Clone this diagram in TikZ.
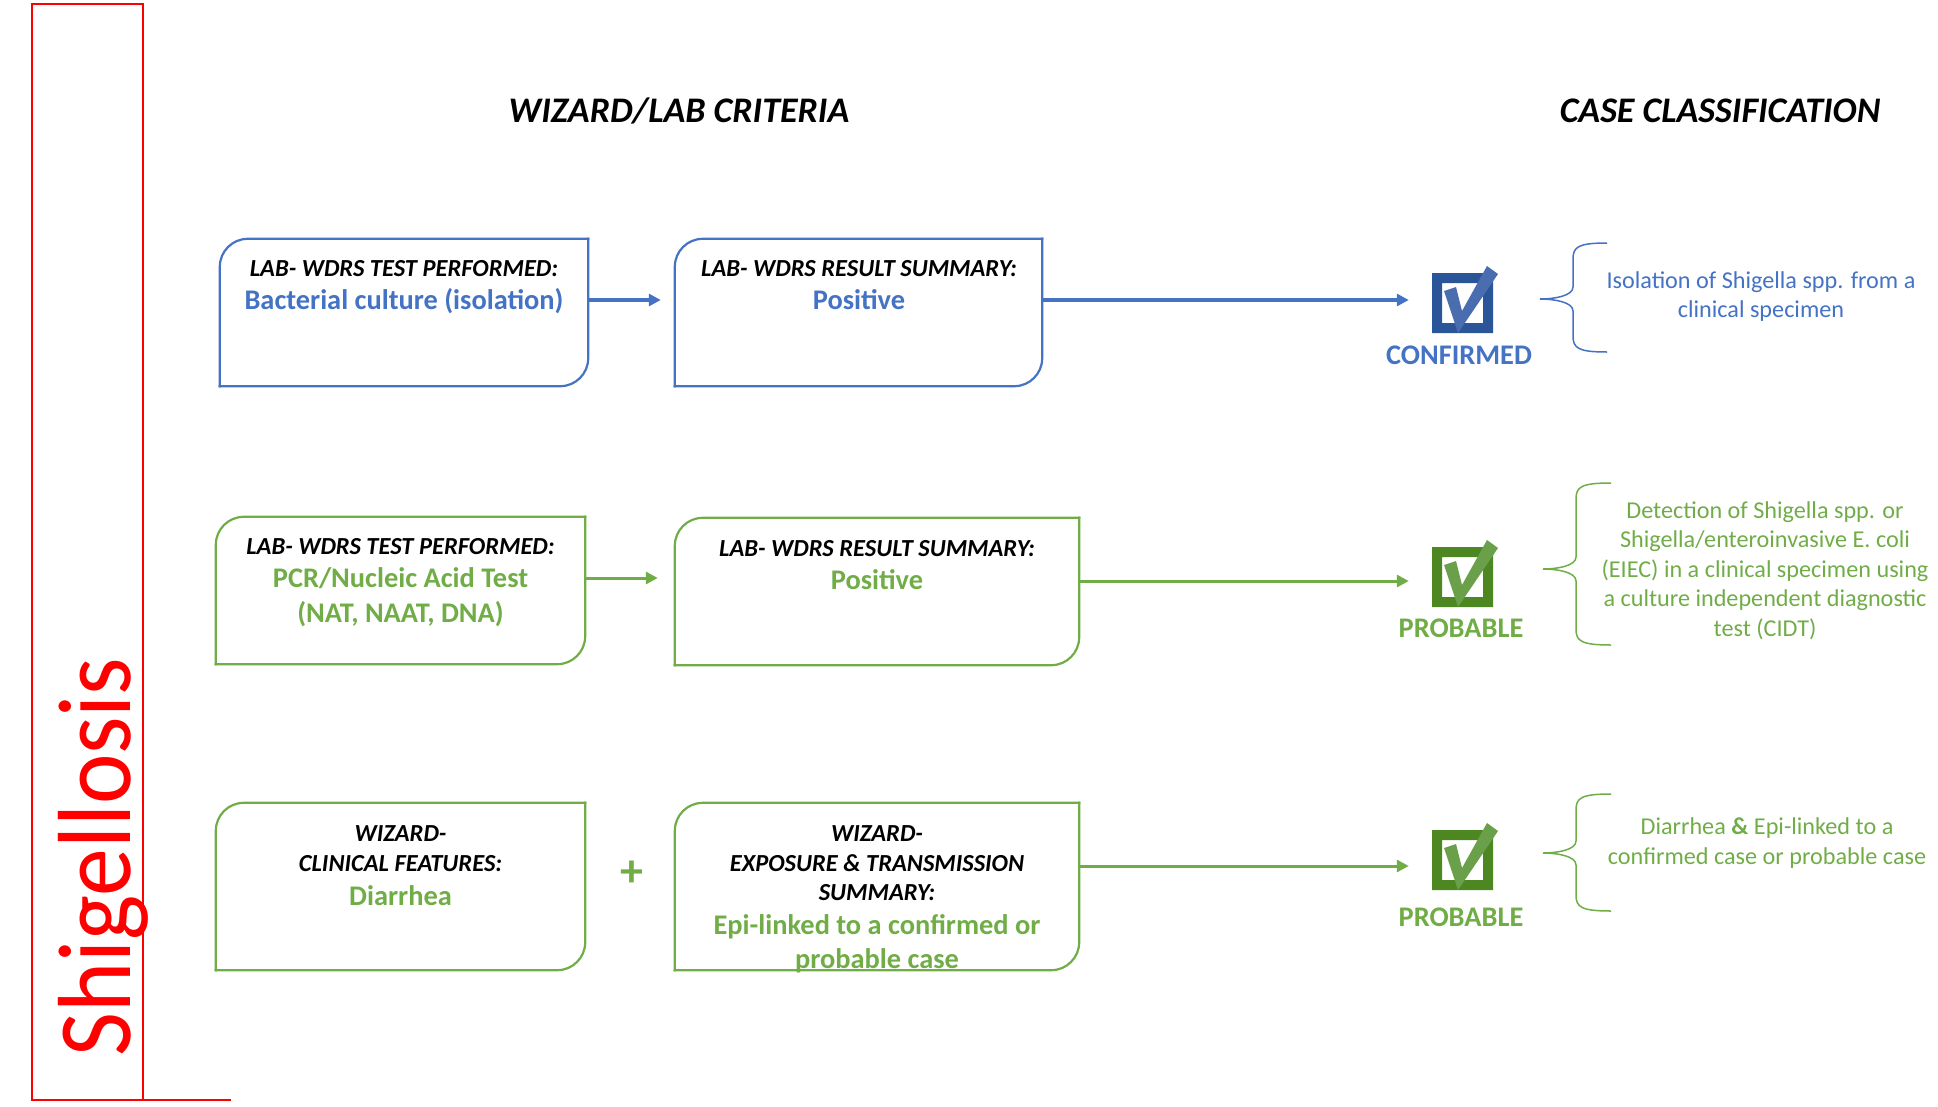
\documentclass[tikz,border=0pt]{standalone}
\usepackage{fontspec}
\setmainfont{Carlito}
\newfontfamily\shigfont[FakeStretch=0.92]{Carlito}
\usetikzlibrary{arrows.meta}
\definecolor{oblue}{HTML}{4472C4}
\definecolor{ogreen}{HTML}{70AD47}
\definecolor{dblue}{HTML}{2A5699}
\definecolor{cblue}{HTML}{4A6DAF}
\definecolor{dgreen}{HTML}{4C8722}
\definecolor{cgreen}{HTML}{6AA04A}
\newcommand\diagframe[2]{%
  \draw[#2, frm] (#1.south west) -- (#1.north west) -- (#1.north east);
  \draw[#2, frm] (#1.north east) -- (#1.south east) -- (#1.south west);}
\newcommand\curlybr[7]{%
  \draw[#1, line width=1.5pt] (#2,#5) .. controls (#3+5,#5) and (#3,#5+4) .. (#3,#5+16)
    -- (#3,#6-12) .. controls (#3,#6-3) and (#4+14,#6) .. (#4,#6)
    .. controls (#4+14,#6) and (#3,#6+3) .. (#3,#6+12)
    -- (#3,#7-16) .. controls (#3,#7-4) and (#3+5,#7) .. (#2,#7);}
\tikzset{
  frm/.style={line width=2.2pt, line cap=rect, rounded corners=28pt},
  boxn/.style={rectangle, draw=none, inner sep=0},
  chkn/.style={rectangle, draw=none, inner sep=0, minimum size=61pt},
  lab/.style={font=\fontsize{24.5}{29}\selectfont\bfseries\itshape, anchor=base, inner sep=0, text=black},
  val/.style={font=\fontsize{28.4}{34}\selectfont\bfseries, anchor=base, inner sep=0},
  desc/.style={font=\fontsize{24.2}{29.5}\selectfont, align=center, inner sep=0},
  cls/.style={font=\fontsize{28.4}{34}\selectfont\bfseries, anchor=base, inner sep=0},
  hdr/.style={font=\fontsize{36}{42}\selectfont\bfseries\itshape, anchor=base, inner sep=0},
  barr/.style={oblue, line width=3.5pt, -{Triangle[length=12pt,width=12pt]}},
  garr/.style={ogreen, line width=3pt, -{Triangle[length=12pt,width=12pt]}},
  pics/chk/.style 2 args={code={
    \fill[#1, even odd rule] (-30.5,-30) rectangle (30.5,30) (-20.5,-20) rectangle (20.5,20);
    \fill[#2] (-18.5,-12) -- (-6.5,-16) -- (-0.5,8) -- (24.5,-37) -- (35.5,-29) -- (-4.5,30) -- cycle;
  }}
}
\begin{document}
\begin{tikzpicture}[x=1pt,y=-1pt]
\useasboundingbox (0,0) rectangle (1938,1106);
% title column
\draw[red, line width=2pt] (32,4) rectangle (143,1100);
\draw[red, line width=2pt] (32,1100) -- (231,1100);
\node[rotate=90, anchor=base west, inner sep=0, text=red, font=\shigfont\fontsize{104}{110}\selectfont] (title) at (130,1057) {Shigellosis};
% headers
\node[hdr] (h1) at (679,122) {WIZARD/LAB CRITERIA};
\node[hdr] (h2) at (1720,122) {CASE CLASSIFICATION};
% boxes
\node[boxn, minimum width=368pt, minimum height=147pt] (b1) at (404,312.5) {};
\node[boxn, minimum width=367pt, minimum height=147pt] (b2) at (858.5,312.5) {};
\node[boxn, minimum width=369pt, minimum height=147pt] (b3) at (400.5,590.5) {};
\node[boxn, minimum width=404pt, minimum height=147pt] (b4) at (877,591.5) {};
\node[boxn, minimum width=369pt, minimum height=167pt] (b5) at (400.5,886.5) {};
\node[boxn, minimum width=404pt, minimum height=167pt] (b6) at (877,886.5) {};
\diagframe{b1}{oblue}
\diagframe{b2}{oblue}
\diagframe{b3}{ogreen}
\diagframe{b4}{ogreen}
\diagframe{b5}{ogreen}
\diagframe{b6}{ogreen}
% box texts
\node[lab] (t1a) at (404,276) {LAB- WDRS TEST PERFORMED:};
\node[val, text=oblue] (t1b) at (404,309) {Bacterial culture (isolation)};
\node[lab] (t2a) at (859,276) {LAB- WDRS RESULT SUMMARY:};
\node[val, text=oblue] (t2b) at (859,309) {Positive};
\node[lab] (t3a) at (400.5,554) {LAB- WDRS TEST PERFORMED:};
\node[val, text=ogreen] (t3b) at (400.5,587) {PCR/Nucleic Acid Test};
\node[val, text=ogreen] (t3c) at (400.5,622) {(NAT, NAAT, DNA)};
\node[lab] (t4a) at (877,556) {LAB- WDRS RESULT SUMMARY:};
\node[val, text=ogreen] (t4b) at (877,589) {Positive};
\node[lab] (t5a) at (400.5,841) {WIZARD-};
\node[lab] (t5b) at (400.5,871) {CLINICAL FEATURES:};
\node[val, text=ogreen] (t5c) at (400.5,905) {Diarrhea};
\node[lab] (t6a) at (877,841) {WIZARD-};
\node[lab] (t6b) at (877,871) {EXPOSURE \& TRANSMISSION};
\node[lab] (t6c) at (877,900) {SUMMARY:};
\node[val, text=ogreen] (t6d) at (877,934) {Epi-linked to a confirmed or};
\node[val, text=ogreen] (t6e) at (877,968) {probable case};
\node[font=\fontsize{46}{50}\selectfont\bfseries, text=ogreen, inner sep=0] (plus) at (632,874) {+};
% check boxes
\node[chkn] (ck1) at (1462.5,303) {};
\node[chkn] (ck2) at (1462.5,577) {};
\node[chkn] (ck3) at (1462.5,860) {};
\pic at (ck1.center) {chk={dblue}{cblue}};
\pic at (ck2.center) {chk={dgreen}{cgreen}};
\pic at (ck3.center) {chk={dgreen}{cgreen}};
\node[cls, text=oblue] (c1) at (1459,364) {CONFIRMED};
\node[cls, text=ogreen] (c2) at (1461,637) {PROBABLE};
\node[cls, text=ogreen] (c3) at (1461,926) {PROBABLE};
% arrows
\coordinate (r1) at (0,300);
\coordinate (r2a) at (0,578);
\coordinate (r2b) at (0,581);
\coordinate (r3) at (0,866);
\draw[barr, shorten >=14pt] (b1.east |- r1) -- (b2.west |- r1);
\draw[barr, shorten >=23pt] (b2.east |- r1) -- (ck1.west |- r1);
\draw[garr, shorten >=17pt] (b3.east |- r2a) -- (b4.west |- r2a);
\draw[garr, shorten >=23pt] (b4.east |- r2b) -- (ck2.west |- r2b);
\draw[garr, shorten >=23pt] (b6.east |- r3) -- (ck3.west |- r3);
% braces
\curlybr{oblue}{1607}{1573}{1540}{243}{299}{352}
\curlybr{ogreen}{1611}{1576}{1543}{483}{569}{645}
\curlybr{ogreen}{1611}{1576}{1543}{794}{853}{911}
% descriptions
\node[desc, text=oblue] (d1) at (1761,296.5) {Isolation of Shigella spp. from a\\clinical specimen};
\node[desc, text=ogreen] (d2) at (1765,570.5) {Detection of Shigella spp. or\\Shigella/enteroinvasive E. coli\\(EIEC) in a clinical specimen using\\a culture independent diagnostic\\test (CIDT)};
\node[desc, text=ogreen] (d3) at (1767,843) {Diarrhea \textbf{\&} Epi-linked to a\\confirmed case or probable case};
\end{tikzpicture}
\end{document}
